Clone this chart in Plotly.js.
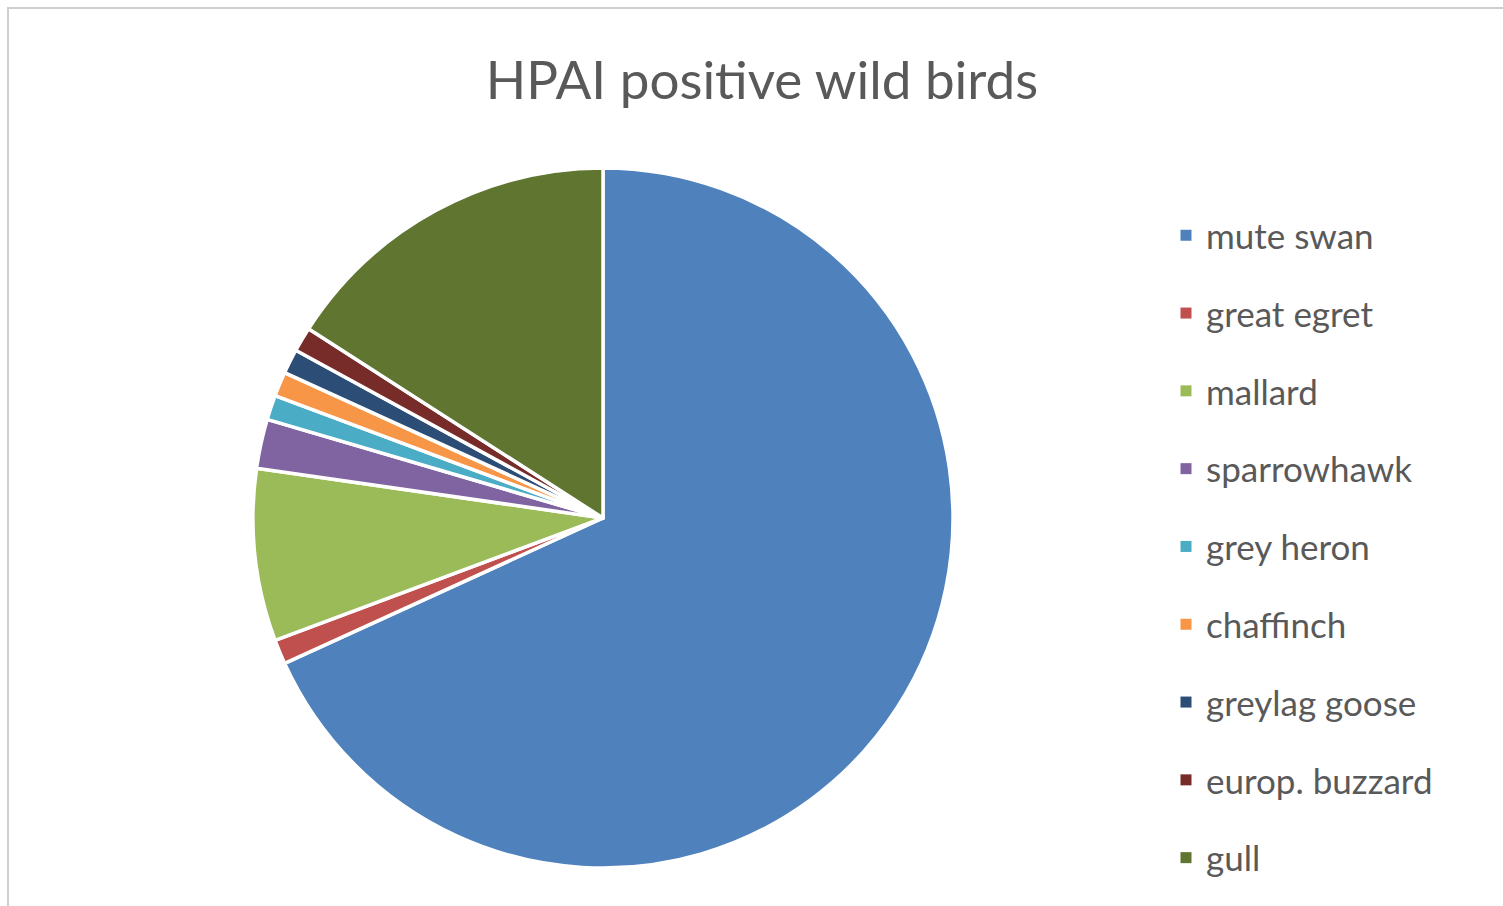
<!DOCTYPE html>
<html>
<head>
<meta charset="utf-8">
<script src="https://cdn.plot.ly/plotly-3.0.1.min.js"></script>
<style>
  html, body { margin: 0; padding: 0; background: #ffffff; }
  #frame { position: absolute; left: 0; top: 0; width: 1503px; height: 906px; }
  #edge { position: absolute; left: 7px; top: 7px; width: 1496px; height: 899px;
          border-left: 2px solid #cfcfcf; border-top: 2px solid #cfcfcf; pointer-events: none; }
</style>
</head>
<body>
<div id="frame"></div>
<div id="edge"></div>
<script>
// ---- data ----
const birds = ["mute swan", "great egret", "mallard", "sparrowhawk", "grey heron",
               "chaffinch", "greylag goose", "europ. buzzard", "gull"];
const positives = [60, 1, 7, 2, 1, 1, 1, 1, 14];
const sliceColors = ["#4F81BD", "#C0504D", "#9BBB59", "#8064A2", "#4BACC6",
                     "#F79646", "#2C4D75", "#772C2A", "#5F7530"];
const chartTitle = "HPAI positive wild birds";

const W = 1503, H = 906;
const textFont = "Lato, 'Open Sans', 'DejaVu Sans', sans-serif";

const pie = {
  type: "pie",
  labels: birds,
  values: positives,
  sort: false,
  direction: "clockwise",
  rotation: 0,
  textinfo: "none",
  hoverinfo: "label+value+percent",
  marker: { colors: sliceColors, line: { color: "#ffffff", width: 3.5 } },
  domain: { x: [253 / W, 953 / W], y: [(H - 868) / H, (H - 168) / H] },
  showlegend: false
};

// legend entries (one per slice, same labels & colours)
const legendTraces = birds.map((b, i) => ({
  type: "scatter",
  mode: "markers",
  x: [null], y: [null],
  name: b,
  legendgroup: "g" + i,
  marker: { symbol: "square", size: 11, color: sliceColors[i] },
  hoverinfo: "skip",
  showlegend: true
}));

const layout = {
  width: W, height: H,
  margin: { l: 0, r: 0, t: 0, b: 0 },
  paper_bgcolor: "#ffffff",
  plot_bgcolor: "#ffffff",
  title: {
    text: chartTitle,
    x: 762 / W, xanchor: "center",
    y: 1 - 80 / H, yanchor: "middle",
    xref: "paper", yref: "paper",
    font: { family: textFont, size: 53, color: "#595959" }
  },
  xaxis: { visible: false, domain: [0.9, 0.95] },
  yaxis: { visible: false, domain: [0.9, 0.95] },
  showlegend: true,
  legend: {
    x: 1166 / W, xanchor: "left",
    y: 1 - 206 / H, yanchor: "top",
    font: { family: textFont, size: 35, color: "#595959" },
    tracegroupgap: 29.3,
    bgcolor: "rgba(0,0,0,0)",
    itemclick: false, itemdoubleclick: false
  }
};

Plotly.newPlot("frame", [pie].concat(legendTraces), layout, { displayModeBar: false, staticPlot: true });
</script>
</body>
</html>
